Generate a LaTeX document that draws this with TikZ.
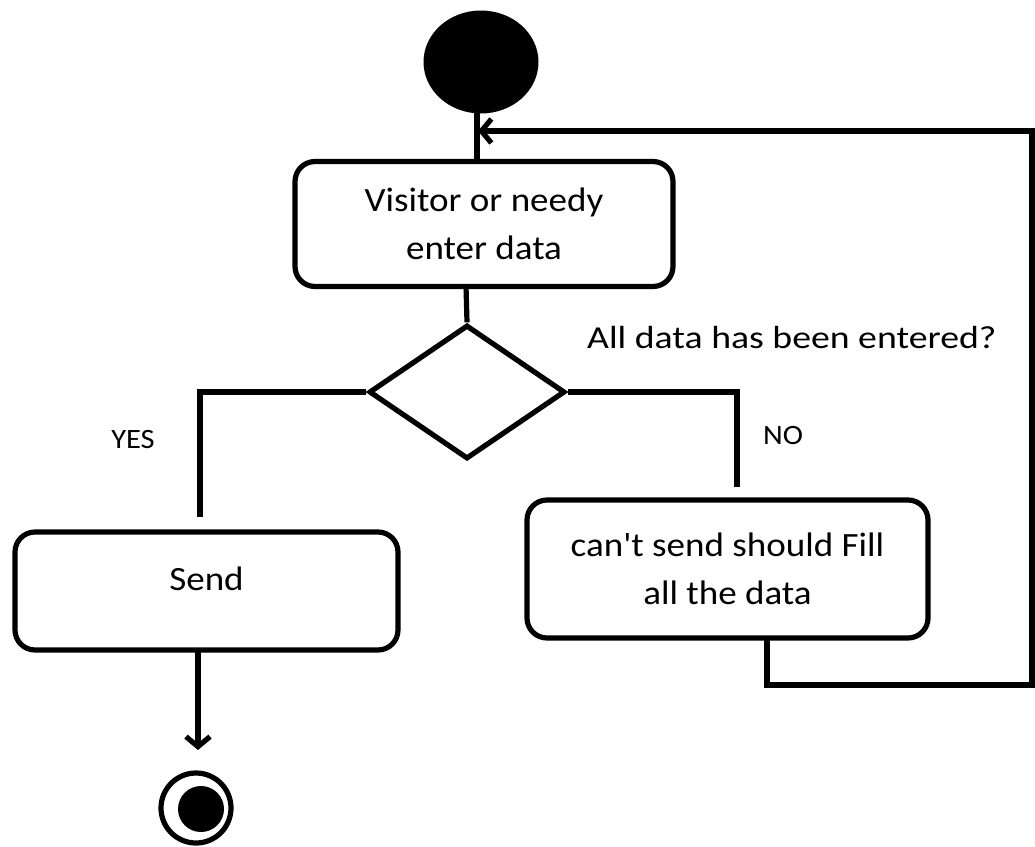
\documentclass[tikz,border=0pt]{standalone}
\usepackage{fontspec}
\setmainfont{Carlito}[FakeStretch=1.09,Ligatures=TeXOff]
\newfontfamily\qfont{Carlito}[FakeStretch=1.18,Ligatures=TeXOff]
\usetikzlibrary{shapes.geometric,arrows.meta}
\begin{document}
\begin{tikzpicture}[x=1pt,y=-1pt,
  conn/.style={line width=5.2pt},
  box/.style={draw,line width=5.2pt,rounded corners=20pt,align=center,inner sep=0pt,font=\fontsize{34}{48}\selectfont},
  arr/.style={-{Straight Barb[length=10pt,width=24pt]}},
  lbl/.style={inner sep=0pt,font=\fontsize{28}{34}\selectfont},
  qlbl/.style={inner sep=0pt,font=\qfont\fontsize{32}{38}\selectfont}]
\useasboundingbox (0,0) rectangle (1035,846);
% start
\node[ellipse,fill=black,minimum width=115pt,minimum height=103pt,inner sep=0pt] (start) at (481,62) {};
% boxes
\node[box,minimum width=378pt,minimum height=125pt] (enter) at (484,224) {Visitor or needy\\enter data};
\node[diamond,draw,line width=5.2pt,minimum width=196pt,minimum height=134pt,inner sep=0pt] (dec) at (467,392) {};
\node[box,minimum width=383pt,minimum height=118pt,text depth=24pt] (send) at (206.5,591) {Send};
\node[box,minimum width=401pt,minimum height=138pt] (fill) at (727.5,569) {can't send should Fill\\all the data};
% end
\node[circle,draw,line width=5.2pt,minimum size=70pt,inner sep=0pt] (end) at (196,808) {};
\node[circle,fill=black,minimum size=46pt,inner sep=0pt] (endin) at (201,809) {};
% labels
\node[qlbl,anchor=base west] (q) at (587,348) {All data has been entered?};
\node[lbl,anchor=base] (yes) at (133,448) {YES};
\node[lbl,anchor=base] (no) at (783,444) {NO};
% coordinates
\coordinate (yesend) at (200,517);
\coordinate (noend) at (737,487);
\coordinate (arrtip) at (478,131);
% connectors
\draw[conn] (477,110) -- (477,160);
\draw[conn] (466,286) -- (dec.north);
\draw[conn] (dec.west) -- (200,392) -- (yesend);
\draw[conn] (dec.east) -- (737,392) -- (noend);
\draw[conn,arr] (198,650) -- (198,750);
\draw[conn,arr] (767,638) -- (767,685) -- (1032,685) -- (1032,131) -- (arrtip);
\end{tikzpicture}
\end{document}
